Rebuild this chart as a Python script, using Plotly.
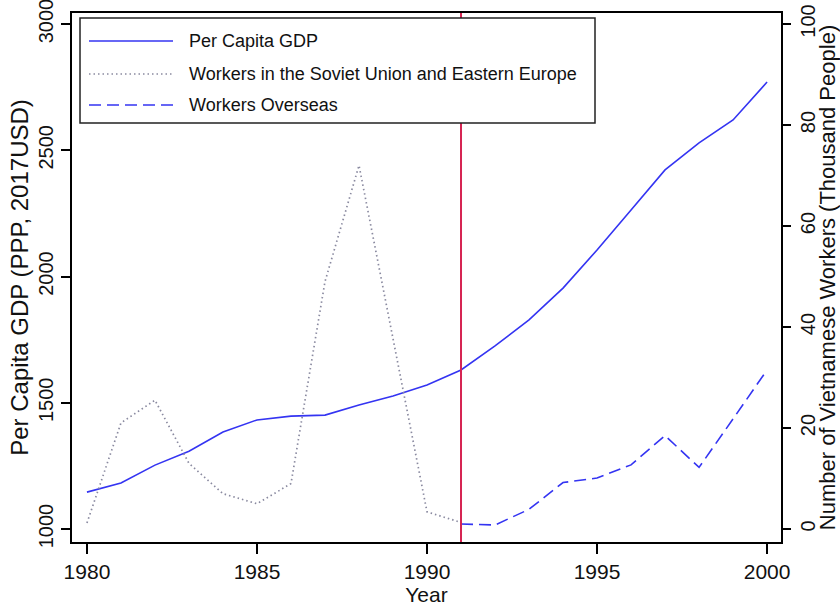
import plotly.graph_objects as go

# ---- data ----
years = list(range(1980, 2001))
gdp_per_capita = [1146, 1182, 1253, 1308, 1384, 1432, 1447, 1451, 1491, 1527, 1570,
                  1630, 1725, 1828, 1954, 2105, 2263, 2422, 2529, 2620, 2770]
soviet_years = list(range(1980, 1992))
soviet_workers = [1.2, 21, 25.5, 13, 7, 5, 9, 49, 72, 38, 3.4, 1.3]
overseas_years = list(range(1991, 2001))
overseas_workers = [1.0, 0.8, 3.9, 9.2, 10.1, 12.7, 18.5, 12.2, 21.8, 31.5]
x_ticks = [1980, 1985, 1990, 1995, 2000]
gdp_ticks = [1000, 1500, 2000, 2500, 3000]
worker_ticks = [0, 20, 40, 60, 80, 100]
event_year = 1991
series_names = ["Per Capita GDP",
                "Workers in the Soviet Union and Eastern Europe",
                "Workers Overseas"]

# ---- styles ----
BLUE = "#3434f2"
GREY = "#8a8aa0"
RED = "#d62452"
FONT = "Liberation Sans, Arial, Helvetica, sans-serif"
W, H = 840, 609
ML, MR, MT, MB = 72, 59, 13, 67
styles = [dict(color=BLUE, width=1.6, dash="solid"),
          dict(color=GREY, width=1.7, dash="1.5px,3px"),
          dict(color=BLUE, width=1.6, dash="12px,6px")]

fig = go.Figure()
fig.add_trace(go.Scatter(x=years, y=gdp_per_capita, mode="lines", name=series_names[0],
                         line=styles[0], yaxis="y", showlegend=False))
fig.add_trace(go.Scatter(x=soviet_years, y=soviet_workers, mode="lines", name=series_names[1],
                         line=styles[1], yaxis="y2", showlegend=False))
fig.add_trace(go.Scatter(x=overseas_years, y=overseas_workers, mode="lines", name=series_names[2],
                         line=styles[2], yaxis="y2", showlegend=False))

# vertical event line
fig.add_shape(type="line", xref="x", yref="paper", x0=event_year, x1=event_year, y0=0, y1=1,
              line=dict(color=RED, width=2))

# ---- custom legend box (pixel layout converted to paper coords) ----
pw, ph = W - ML - MR, H - MT - MB
def px(x):
    return (x - ML) / pw
def py(y):
    return (H - MB - y) / ph

fig.add_shape(type="rect", xref="paper", yref="paper",
              x0=px(80), x1=px(595), y0=py(123), y1=py(18),
              line=dict(color="#222222", width=1.5), fillcolor="white", layer="above")
rows = [41, 74, 105]
for name, st, ry in zip(series_names, styles, rows):
    fig.add_shape(type="line", xref="paper", yref="paper",
                  x0=px(89), x1=px(173), y0=py(ry), y1=py(ry),
                  line=st, layer="above")
    fig.add_annotation(xref="paper", yref="paper", x=px(187), y=py(ry), text=name,
                       showarrow=False, xanchor="left", yanchor="middle",
                       font=dict(family=FONT, size=18, color="#111111"))

axis_common = dict(showgrid=False, zeroline=False, ticks="outside", tickcolor="black",
                   tickwidth=1.5, automargin=False, ticklabeloverflow="allow")

fig.update_layout(
    template="none",
    width=W, height=H,
    margin=dict(l=ML, r=MR, t=MT, b=MB, autoexpand=False),
    paper_bgcolor="white", plot_bgcolor="white",
    font=dict(family=FONT, color="#111111"),
    showlegend=False,
    xaxis=dict(range=[1979.56, 2000.41], tickvals=x_ticks, ticklen=10, showline=True,
               linecolor="black", linewidth=2,
               mirror=True, tickfont=dict(size=21),
               title=dict(text="Year", font=dict(size=21), standoff=0), **axis_common),
    yaxis=dict(range=[948.5, 3043.6], tickvals=gdp_ticks, ticklen=9, showline=True,
               linecolor="black", linewidth=2,
               mirror=True, tickangle=-90, tickfont=dict(size=20),
               title=dict(text="Per Capita GDP (PPP, 2017USD)", font=dict(size=24), standoff=0),
               **axis_common),
    yaxis2=dict(range=[-2.57, 102.18], tickvals=worker_ticks, ticklen=9, overlaying="y",
                side="right", showline=False, tickangle=-90, tickfont=dict(size=20),
                title=dict(text="Number of Vietnamese Workers (Thousand People)",
                           font=dict(size=22), standoff=2),
                **axis_common),
)

fig.write_html("out.html", config={"displayModeBar": False},
               post_script="document.body.style.margin='0';document.body.style.overflow='hidden';")
